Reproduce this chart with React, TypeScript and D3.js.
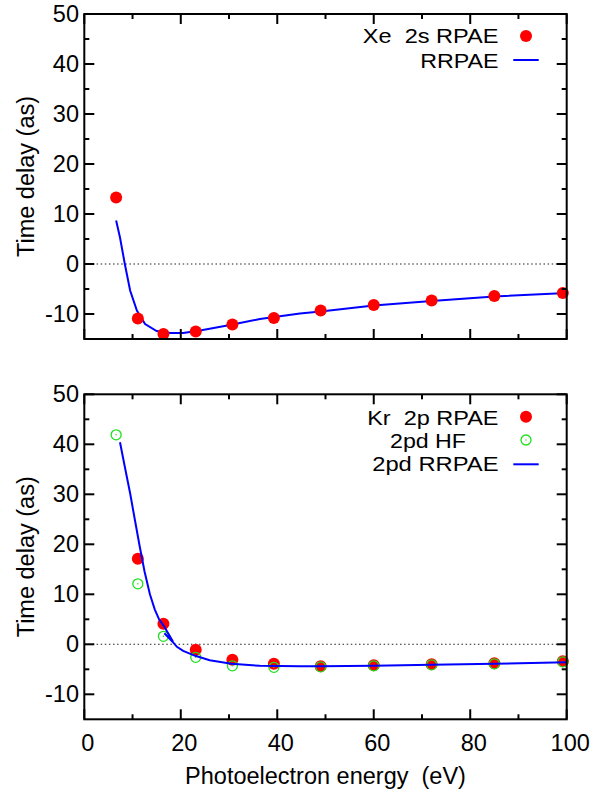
import React from "react";
import * as d3 from "d3";

// ---- Data ----
const energies = [6.6, 11.1, 16.4, 23.1, 30.7, 39.3, 49.0, 60.0, 72.0, 85.0, 99.2];

// Top panel: Xe 2s RPAE points
const xe2sRPAE = [13.3, -10.9, -14.0, -13.5, -12.1, -10.8, -9.3, -8.2, -7.3, -6.4, -5.8];
// Top panel RRPAE curve
const xeCurveX = [6.6, 7.4, 8.4, 9.5, 10.9, 12.6, 15.0, 17.8, 20.5, 24.0, 30.2, 36.4, 44.7, 49.0, 60.0, 72.0, 85.0, 100.0];
const xeCurveY = [8.7, 5.3, 0.0, -5.3, -9.3, -12.0, -13.4, -13.8, -13.8, -13.3, -12.2, -11.0, -9.9, -9.5, -8.3, -7.4, -6.5, -5.8];

// Bottom panel: Kr 2p RPAE (first point off scale)
const kr2pX = [11.1, 16.4, 23.1, 30.7, 39.3, 49.0, 60.0, 72.0, 85.0, 99.2];
const kr2pRPAE = [17.1, 4.1, -1.1, -3.1, -3.9, -4.4, -4.2, -4.0, -3.8, -3.4];
// 2pd HF
const kr2pdHF = [41.9, 12.1, 1.6, -2.6, -4.3, -4.6, -4.5, -4.3, -4.1, -3.9, -3.5];
// 2pd RRPAE curve
const krCurveX = [7.4, 8.5, 9.5, 10.5, 11.5, 12.5, 13.6, 14.6, 15.5, 16.4, 17.5, 18.4, 16.6, 18.6, 19.2, 20.5, 23.0, 26.0, 30.5, 36.4, 44.7, 49.0, 60.0, 72.0, 85.0, 100.0];
const krCurveY = [40.4, 35.0, 30.2, 24.8, 19.5, 14.5, 10.0, 7.0, 5.0, 3.8, 2.0, 0.5, 2.2, 0.2, -0.5, -1.3, -2.3, -3.2, -3.9, -4.3, -4.4, -4.4, -4.3, -4.1, -3.9, -3.6];

const xTicks = [0, 20, 40, 60, 80, 100];
const xMinor = [10, 30, 50, 70, 90];
const yTicks = [-10, 0, 10, 20, 30, 40, 50];
const yMinor = [-5, 5, 15, 25, 35, 45];

const FONT = "'Liberation Sans', Arial, Helvetica, sans-serif";
const FS = 23.5;
const LFS = 20.5;
const R = 6;

const X0 = 84.3, X1 = 566.7;
const x = d3.scaleLinear().domain([0, 100]).range([X0, X1]);

function Panel({ top, bottom, showXLabels, children }: any) {
  const y = d3.scaleLinear().domain([-15, 50]).range([bottom, top]);
  const mid = (top + bottom) / 2;
  return (
    <g>
      <line x1={X0} x2={X1} y1={y(0)} y2={y(0)} stroke="#222" strokeWidth={1.1} strokeDasharray="1.5,2.6" />
      {children(y)}
      <rect x={X0} y={top} width={X1 - X0} height={bottom - top} fill="none" stroke="#000" strokeWidth={2} />
      {yTicks.map((t) => (
        <g key={"y" + t}>
          <line x1={X0} x2={X0 + 10} y1={y(t)} y2={y(t)} stroke="#000" strokeWidth={2} />
          <line x1={X1} x2={X1 - 10} y1={y(t)} y2={y(t)} stroke="#000" strokeWidth={2} />
          <text x={79} y={y(t) + 8} textAnchor="end" fontFamily={FONT} fontSize={FS} fill="#000">{t}</text>
        </g>
      ))}
      {yMinor.map((t) => (
        <g key={"ym" + t}>
          <line x1={X0} x2={X0 + 5} y1={y(t)} y2={y(t)} stroke="#000" strokeWidth={2} />
          <line x1={X1} x2={X1 - 5} y1={y(t)} y2={y(t)} stroke="#000" strokeWidth={2} />
        </g>
      ))}
      {xTicks.map((t) => (
        <g key={"x" + t}>
          <line x1={x(t)} x2={x(t)} y1={top} y2={top + 10} stroke="#000" strokeWidth={2} />
          <line x1={x(t)} x2={x(t)} y1={bottom} y2={bottom - 10} stroke="#000" strokeWidth={2} />
          {showXLabels && (
            <text x={x(t) + 3.5} y={751} textAnchor="middle" fontFamily={FONT} fontSize={FS} fill="#000">{t}</text>
          )}
        </g>
      ))}
      {xMinor.map((t) => (
        <g key={"xm" + t}>
          <line x1={x(t)} x2={x(t)} y1={top} y2={top + 5} stroke="#000" strokeWidth={2} />
          <line x1={x(t)} x2={x(t)} y1={bottom} y2={bottom - 5} stroke="#000" strokeWidth={2} />
        </g>
      ))}
      <text transform={`translate(33.5,${mid}) rotate(-90)`} textAnchor="middle" fontFamily={FONT} fontSize={FS} fill="#000">Time delay (as)</text>
    </g>
  );
}

function GreenCircle({ cx, cy }: any) {
  return (
    <g>
      <circle cx={cx} cy={cy} r={5} fill="none" stroke="#1ee01e" strokeWidth={1.3} />
      <circle cx={cx} cy={cy} r={0.7} fill="#1ee01e" />
    </g>
  );
}

function LegendText({ x: tx, y: ty, w, children }: any) {
  return (
    <text x={tx} y={ty} textAnchor="end" fontFamily={FONT} fontSize={LFS} fill="#000"
      textLength={w} lengthAdjust="spacingAndGlyphs" style={{ whiteSpace: "pre" }}>{children}</text>
  );
}

export default function App() {
  const lineGen = (y: any) =>
    d3.line<[number, number]>().x((d) => x(d[0])).y((d) => y(d[1]));

  return (
    <svg width={605} height={793} style={{ position: "absolute", left: 0, top: 0, background: "#fff" }}>
      <rect x={0} y={0} width={605} height={793} fill="#fff" />
      <Panel top={14} bottom={339} showXLabels={false}>
        {(y: any) => (
          <g>
            <path d={lineGen(y)(xeCurveX.map((v, i) => [v, xeCurveY[i]]))!} fill="none" stroke="#0000ff" strokeWidth={2} />
            {energies.map((e, i) => (
              <circle key={i} cx={x(e)} cy={y(xe2sRPAE[i])} r={R} fill="#ff0000" />
            ))}
          </g>
        )}
      </Panel>
      <Panel top={394.3} bottom={719.3} showXLabels={true}>
        {(y: any) => (
          <g>
            {kr2pX.map((e, i) => (
              <circle key={"r" + i} cx={x(e)} cy={y(kr2pRPAE[i])} r={R} fill="#ff0000" />
            ))}
            {energies.map((e, i) => (
              <GreenCircle key={"g" + i} cx={x(e)} cy={y(kr2pdHF[i])} />
            ))}
            <path d={lineGen(y)(krCurveX.map((v, i) => [v, krCurveY[i]]))!} fill="none" stroke="#0000ff" strokeWidth={2} />
          </g>
        )}
      </Panel>

      <LegendText x={498.5} y={43.3} w={135.7}>{"Xe  2s RPAE"}</LegendText>
      <LegendText x={498.5} y={67.7} w={78.3}>RRPAE</LegendText>
      <circle cx={526} cy={36} r={R} fill="#ff0000" />
      <line x1={513.3} x2={538.7} y1={60} y2={60} stroke="#0000ff" strokeWidth={2} />

      <LegendText x={498.5} y={424.5} w={131.3}>{"Kr  2p RPAE"}</LegendText>
      <LegendText x={466} y={447.7} w={76}>2pd HF</LegendText>
      <LegendText x={498.5} y={471} w={126.3}>2pd RRPAE</LegendText>
      <circle cx={526} cy={416.7} r={R} fill="#ff0000" />
      <GreenCircle cx={526} cy={440} />
      <line x1={513.3} x2={538.7} y1={464.3} y2={464.3} stroke="#0000ff" strokeWidth={2} />

      <text x={325.5} y={783.5} textAnchor="middle" fontFamily={FONT} fontSize={FS} fill="#000" style={{ whiteSpace: "pre" }}>{"Photoelectron energy  (eV)"}</text>
    </svg>
  );
}
